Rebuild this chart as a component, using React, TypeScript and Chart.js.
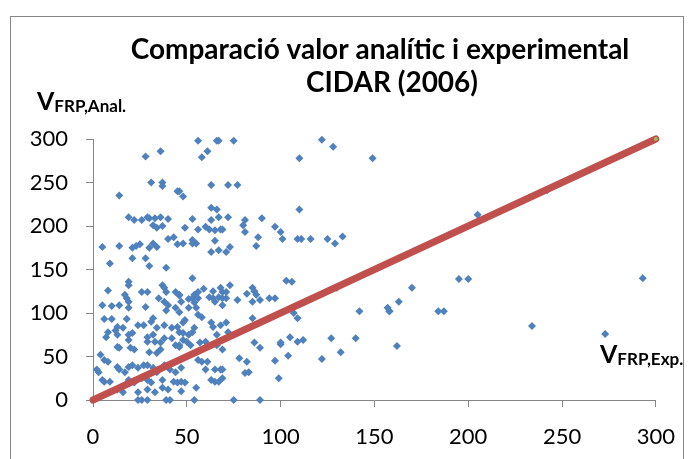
import React, { useEffect, useRef } from "react";
import { Chart, registerables } from "chart.js";
Chart.register(...registerables);

const titleLines = ["Comparació valor analític i experimental", "CIDAR (2006)"];
const yAxisMain = "V";
const yAxisSub = "FRP,Anal.";
const xAxisMain = "V";
const xAxisSub = "FRP,Exp.";
const axisMin = 0;
const axisMax = 300;
const axisStep = 50;

const lineX = [0, 300];
const lineY = [0, 300];

// V_FRP,Exp. (x) values
const expValues = [
  28, 36, 31, 37, 37, 45, 48, 14, 19, 22, 26, 29, 30, 33, 36, 32, 34, 37, 40, 5, 14, 21, 23, 25, 30, 32, 34, 40, 43, 45, 48, 49, 9, 21, 28, 30, 39,
  56, 66, 67, 75, 61, 58, 63, 72, 77, 46, 63, 66, 53, 67, 63, 72, 56, 60, 62, 65, 68, 69, 81, 80, 81, 90, 97, 100, 88, 87, 53, 53, 55, 65, 63, 67, 71, 73,
  122, 128, 110, 149, 110, 101, 109, 111, 116, 125, 129, 133,
  205, 242,
  158, 163, 170, 162, 184, 187, 195, 200, 234, 273, 293,
  103, 106, 97, 107, 109, 105, 100, 109, 112, 97, 104, 99, 127, 122, 132, 140, 142, 157, 158, 130,
  53, 46, 56, 59, 54, 53, 51, 56, 64, 68, 69, 71, 73, 67, 69, 64, 71, 62, 65, 69, 77, 82, 85, 86, 87, 85, 89, 94, 51, 55, 56, 58, 54, 46, 49, 46, 48, 51, 53, 54, 50, 52, 46, 48, 63, 64, 68, 71, 72, 85, 66, 69, 66, 57, 60, 86, 89, 100, 56, 58, 61, 78, 82, 83, 81, 65, 68, 69, 60, 63, 65, 67, 69, 47, 49, 55, 47, 54, 75, 89,
  19, 19, 8, 26, 29, 37, 38, 39, 44, 46, 17, 18, 35, 5, 10, 14, 19, 19, 28, 38, 40, 39, 44, 47, 6, 10, 18, 32, 13, 16, 12, 13, 8, 7, 24, 27, 31, 34, 32, 38, 42, 45, 48, 19, 21, 19, 29, 29, 33, 36, 38, 42, 44, 46, 4, 6, 8, 13, 14, 20, 22, 30, 34, 36, 2, 3, 13, 14, 17, 19, 21, 24, 27, 29, 32, 34, 38, 41, 44, 47, 5, 6, 9, 19, 22, 26, 29, 31, 37, 43, 45, 13, 16, 24, 29, 33, 37, 40, 24, 26, 29, 39, 41,
];

// V_FRP,Anal. (y) values
const analValues = [
  280, 286, 250, 250, 246, 240, 234, 235, 210, 207, 207, 210, 209, 209, 210, 201, 198, 200, 208, 176, 177, 175, 177, 179, 175, 180, 176, 185, 187, 179, 180, 198, 157, 163, 163, 154, 152,
  298, 298, 298, 298, 286, 279, 247, 247, 247, 240, 221, 219, 208, 210, 207, 210, 196, 199, 196, 195, 196, 196, 207, 201, 193, 209, 199, 193, 187, 177, 184, 180, 180, 183, 170, 172, 170, 176,
  299, 291, 278, 278, 219, 185, 185, 185, 185, 185, 180, 188,
  213, 241,
  102, 113, 129, 62, 102, 102, 139, 139, 85, 76, 140,
  137, 136, 117, 100, 94, 72, 64, 67, 69, 45, 51, 25, 71, 47, 55, 71, 102, 106, 102, 129,
  140, 120, 124, 128, 121, 117, 116, 117, 125, 129, 124, 124, 132, 118, 117, 117, 117, 118, 113, 109, 115, 122, 129, 125, 121, 113, 115, 117, 106, 106, 98, 95, 112, 101, 92, 78, 77, 75, 78, 83, 67, 63, 63, 69, 89, 84, 86, 89, 78, 94, 75, 58, 63, 66, 67, 66, 60, 66, 46, 44, 44, 48, 44, 32, 31, 35, 35, 35, 35, 23, 21, 21, 25, 21, 20, 14, 10, 0, 0, 0,
  136, 132, 126, 124, 124, 132, 129, 124, 124, 121, 121, 117, 117, 109, 108, 109, 113, 106, 107, 113, 109, 103, 106, 113, 93, 93, 93, 94, 84, 83, 80, 75, 78, 72, 86, 86, 90, 83, 75, 86, 83, 84, 89, 75, 77, 69, 72, 67, 67, 66, 71, 71, 63, 61, 52, 46, 44, 61, 60, 60, 58, 55, 54, 58, 35, 32, 38, 35, 32, 38, 40, 37, 40, 40, 37, 32, 40, 35, 32, 37, 23, 21, 21, 23, 20, 25, 23, 20, 23, 21, 20, 12, 9, 9, 12, 9, 14, 12, 0, 0, 0, 0, 0,
];

const FONT = "Lato, 'Open Sans', sans-serif";

const overlay = {
  id: "overlay",
  afterDraw(chart: any) {
    const ctx = chart.ctx as CanvasRenderingContext2D;
    ctx.save();
    // frame
    ctx.strokeStyle = "#868686";
    ctx.lineWidth = 1;
    ctx.strokeRect(10.5, 16.5, 673, 470);
    // title
    ctx.fillStyle = "#000";
    ctx.textAlign = "center";
    ctx.textBaseline = "alphabetic";
    ctx.font = `bold 28px ${FONT}`;
    ctx.fillText(titleLines[0], 380, 59);
    ctx.fillText(titleLines[1], 392, 92);
    // axis labels
    const drawLabel = (main: string, sub: string, x: number, y: number) => {
      ctx.textAlign = "left";
      ctx.font = `bold 25px ${FONT}`;
      ctx.fillText(main, x, y);
      const w = ctx.measureText(main).width;
      ctx.font = `bold 17px ${FONT}`;
      ctx.fillText(sub, x + w, y + 2);
    };
    drawLabel(yAxisMain, yAxisSub, 37, 110);
    drawLabel(xAxisMain, xAxisSub, 600, 363);
    ctx.restore();
  },
};

export default function App() {
  const ref = useRef<HTMLCanvasElement>(null);
  useEffect(() => {
    const canvas = ref.current!;
    const tickFont = { family: FONT, size: 22 };
    const chart = new Chart(canvas, {
      type: "scatter",
      data: {
        datasets: [
          {
            data: lineX.map((x, i) => ({ x, y: lineY[i] })),
            showLine: true,
            borderColor: "#C0504D",
            borderWidth: 7,
            borderCapStyle: "round",
            pointRadius: [0, 2],
            pointBackgroundColor: "#9BBB59",
            pointBorderWidth: 0,
            clip: false,
            order: 0,
          },
          {
            data: expValues.map((x, i) => ({ x, y: analValues[i] })),
            pointStyle: "rectRot",
            pointRadius: 4,
            backgroundColor: "#4F81BD",
            borderColor: "#4F81BD",
            borderWidth: 0,
            clip: false,
            order: 1,
          },
        ] as any,
      },
      options: {
        responsive: false,
        animation: false,
        events: [],
        layout: { padding: { left: 0, top: 139, right: 36, bottom: 0 } },
        plugins: { legend: { display: false }, tooltip: { enabled: false }, title: { display: false } },
        scales: {
          x: {
            type: "linear",
            min: axisMin,
            max: axisMax,
            ticks: { stepSize: axisStep, font: tickFont, color: "#000", padding: 17 },
            grid: { drawOnChartArea: false, tickLength: 7, color: "#868686" },
            border: { color: "#868686" },
            afterFit: (s: any) => {
              s.height = 59;
            },
          },
          y: {
            type: "linear",
            min: axisMin,
            max: axisMax,
            ticks: { stepSize: axisStep, font: tickFont, color: "#000", padding: 18 },
            grid: { drawOnChartArea: false, tickLength: 7, color: "#868686" },
            border: { color: "#868686" },
            afterFit: (s: any) => {
              s.width = 93;
            },
          },
        },
      } as any,
      plugins: [overlay],
    });
    return () => chart.destroy();
  }, []);
  return (
    <div style={{ position: "absolute", left: 0, top: 0, width: 692, height: 459, background: "#fff" }}>
      <canvas ref={ref} width={692} height={459} style={{ display: "block" }} />
    </div>
  );
}
